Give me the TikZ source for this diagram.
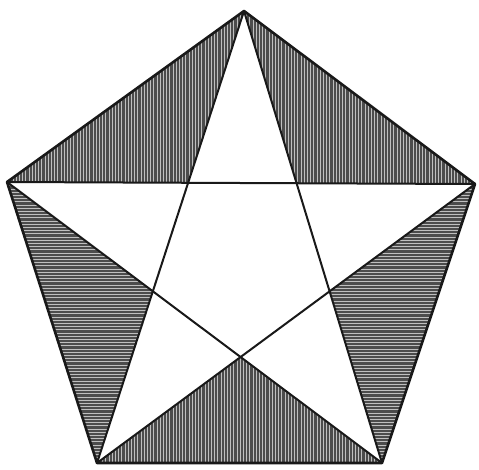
\documentclass[tikz,border=0pt]{standalone}
\begin{document}
\begin{tikzpicture}[x=1pt,y=-1pt,
  edge/.style={line width=2.6pt,line join=round,draw=black!90},
  starline/.style={line width=2pt,draw=black!90},
  shade/.style={fill=black!70},
  hatchline/.style={line width=0.5pt,draw=white!75!black}]
\useasboundingbox (0,0) rectangle (479,469);
\coordinate (T) at (244,11);
\coordinate (L) at (7,182);
\coordinate (R) at (475,184);
\coordinate (BL) at (97,463);
\coordinate (BR) at (382,463);
\coordinate (iTL) at (intersection of T--BL and L--R);
\coordinate (iTR) at (intersection of T--BR and L--R);
\coordinate (iL) at (intersection of T--BL and L--BR);
\coordinate (iR) at (intersection of T--BR and R--BL);
\coordinate (iB) at (intersection of L--BR and R--BL);
% shaded triangles
\fill[shade] (T) -- (L) -- (iTL) -- cycle;
\fill[shade] (T) -- (R) -- (iTR) -- cycle;
\fill[shade] (L) -- (BL) -- (iL) -- cycle;
\fill[shade] (R) -- (BR) -- (iR) -- cycle;
\fill[shade] (BL) -- (BR) -- (iB) -- cycle;
% vertical hatching top and bottom
\begin{scope}
\clip (T) -- (L) -- (iTL) -- cycle (T) -- (R) -- (iTR) -- cycle (BL) -- (BR) -- (iB) -- cycle;
\foreach \x in {0,3.2,...,479} {\draw[hatchline] (\x,0) -- (\x,469);}
\end{scope}
% horizontal hatching left and right
\begin{scope}
\clip (L) -- (BL) -- (iL) -- cycle (R) -- (BR) -- (iR) -- cycle;
\foreach \y in {0,3.2,...,469} {\draw[hatchline] (0,\y) -- (479,\y);}
\end{scope}
% star
\draw[starline] (T) -- (BL);
\draw[starline] (T) -- (BR);
\draw[starline] (L) -- (R);
\draw[starline] (L) -- (BR);
\draw[starline] (R) -- (BL);
% pentagon
\draw[edge] (T) -- (R) -- (BR) -- (BL) -- (L) -- cycle;
\end{tikzpicture}
\end{document}
